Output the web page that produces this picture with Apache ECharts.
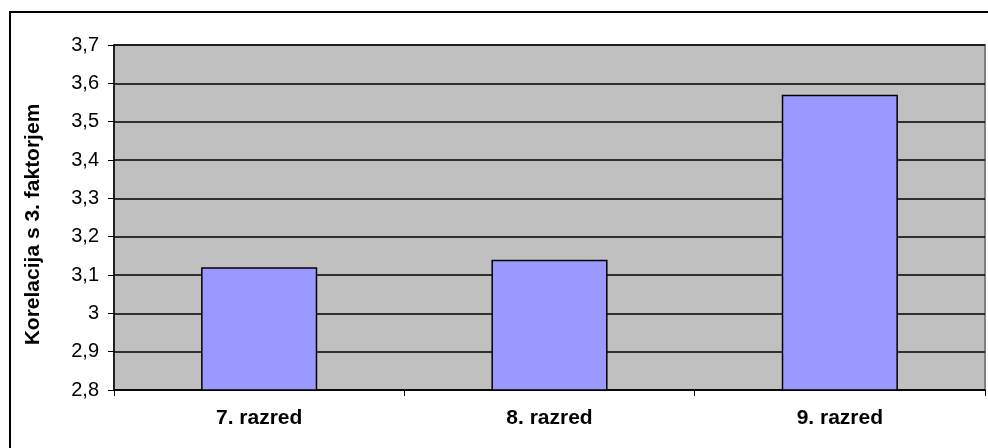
<!DOCTYPE html>
<html><head><meta charset="utf-8">
<script src="https://cdn.jsdelivr.net/npm/echarts@6/dist/echarts.min.js"></script>
<style>html,body{margin:0;padding:0;background:#fff}#c{width:988px;height:448px;position:relative}
#frame{position:absolute;left:9px;top:11px;width:990px;height:450px;border:2px solid #000;box-sizing:border-box;pointer-events:none}</style>
</head><body><div id="c"></div><div id="frame"></div>
<script>
const categories = ['7. razred', '8. razred', '9. razred'];
const values = [3.12, 3.14, 3.57];
const yTicks = [2.8, 3.7, 0.1];
const yTitle = 'Korelacija s 3. faktorjem';

const chart = echarts.init(document.getElementById('c'), null, {renderer: 'canvas'});
chart.setOption({
  animation: false,
  grid: {left: 114, right: 3, top: 45, bottom: 58, show: true, backgroundColor: '#C0C0C0', borderColor: '#808080', borderWidth: 2},
  xAxis: {
    type: 'category', data: categories,
    axisLine: {lineStyle: {color: '#000', width: 1.5}},
    axisTick: {show: true, alignWithLabel: false, length: 6, lineStyle: {color: '#000'}},
    axisLabel: {color: '#000', fontFamily: 'Liberation Sans, Arial', fontWeight: 'bold', fontSize: 21, margin: 18}
  },
  yAxis: {
    type: 'value', min: yTicks[0], max: yTicks[1], interval: yTicks[2],
    name: yTitle, nameLocation: 'middle', nameGap: 70, nameRotate: 90,
    nameTextStyle: {color: '#000', fontFamily: 'Liberation Sans, Arial', fontWeight: 'bold', fontSize: 21, padding: [0, 14, 0, 0]},
    axisLine: {show: true, lineStyle: {color: '#000', width: 1.5}},
    axisTick: {show: true, length: 6, lineStyle: {color: '#000'}},
    axisLabel: {color: '#000', fontFamily: 'Liberation Sans, Arial', fontSize: 20, margin: 15,
      formatter: v => (Math.round(v * 10) / 10).toString().replace('.', ',')},
    splitLine: {show: true, lineStyle: {color: '#000', width: 1.5}}
  },
  series: [{
    type: 'bar', data: values, barWidth: '40%',
    itemStyle: {color: '#9999FF', borderColor: '#000', borderWidth: 1.5}
  }]
});
</script></body></html>
